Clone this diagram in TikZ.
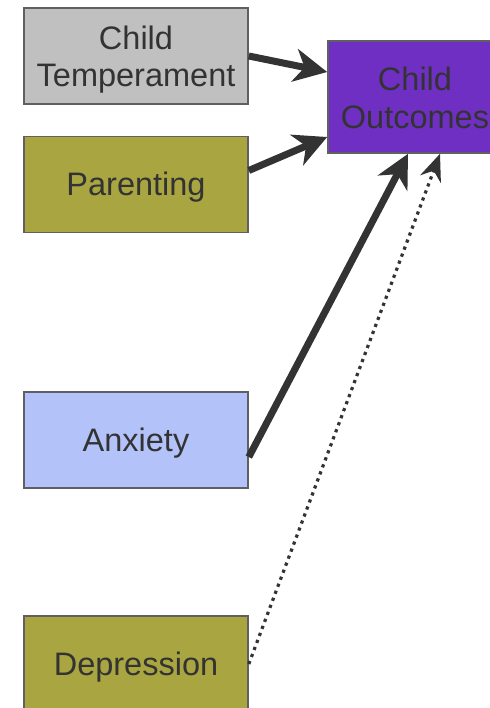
\documentclass[tikz,border=0pt]{standalone}
\usepackage{fontspec}
\setmainfont{Liberation Sans}
\usetikzlibrary{arrows.meta}
\definecolor{txt}{HTML}{333333}
\definecolor{bord}{HTML}{606060}
\definecolor{greyf}{HTML}{C0C0C0}
\definecolor{olive}{HTML}{A9A641}
\definecolor{bluef}{HTML}{B3C3FA}
\definecolor{purp}{HTML}{6F2FC2}
\definecolor{arr}{HTML}{333333}
\newcommand{\lowertxt}[2]{\raisebox{-#1}[\height][\depth]{#2}}
\tikzset{
  box/.style={draw=bord, line width=1.6pt, minimum width=224pt, minimum height=96pt,
    inner sep=0pt, align=center, text=txt, font=\fontsize{32.5}{37}\selectfont},
  thick arrow/.style={draw=arr, line width=7pt, -{Stealth[length=33pt,width=33pt,inset=10pt]}},
  dot arrow/.style={draw=arr, line width=3.2pt, dash pattern=on 3.2pt off 4.3pt,
    -{Stealth[length=27pt,width=22pt,inset=9pt]}}
}
\begin{document}
\begin{tikzpicture}[x=1pt,y=-1pt]
\useasboundingbox (0,0) rectangle (489,708);
\node[box, fill=greyf] (temp) at (136,56) {\lowertxt{5pt}{\begin{tabular}{@{}c@{}}Child\\Temperament\end{tabular}}};
\node[box, fill=olive] (par) at (136,184.5) {\lowertxt{3pt}{Parenting}};
\node[box, fill=bluef] (anx) at (136,440) {\lowertxt{3pt}{Anxiety}};
\node[box, fill=olive] (dep) at (136,664) {\lowertxt{3pt}{Depression}};
\node[box, fill=purp, minimum width=174pt, minimum height=112pt] (out) at (415,97) {\lowertxt{5pt}{\begin{tabular}{@{}c@{}}Child\\[1pt]Outcomes\end{tabular}}};
\draw[thick arrow] (temp.east) -- ([yshift=25pt]out.west);
\draw[thick arrow] ([yshift=14pt]par.east) -- ([yshift=-40pt]out.west);
\draw[thick arrow] ([yshift=-17pt]anx.east) -- ([xshift=-7pt]out.south);
\draw[dot arrow] (dep.east) -- ([xshift=25pt]out.south);
\end{tikzpicture}
\end{document}
